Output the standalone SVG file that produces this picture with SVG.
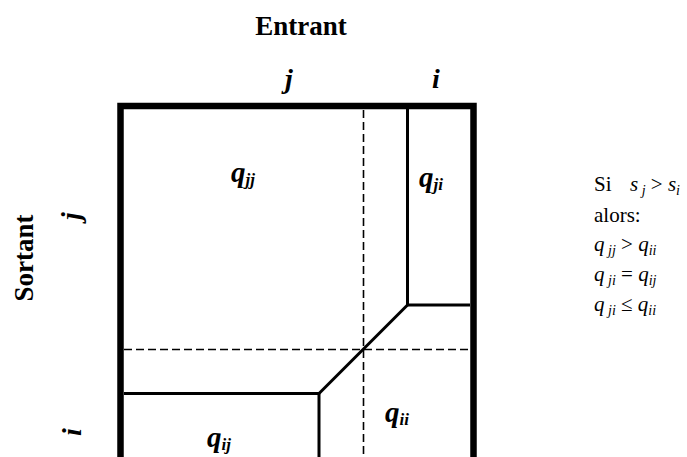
<svg xmlns="http://www.w3.org/2000/svg" width="687" height="457" viewBox="0 0 687 457">
<style>
.title{font-family:"Liberation Serif","Times New Roman",serif;font-weight:bold;font-size:27px;fill:#000}
.idx{font-family:"Liberation Serif","Times New Roman",serif;font-weight:bold;font-style:italic;font-size:28px;fill:#000}
.q{font-family:"Liberation Serif","Times New Roman",serif;font-weight:bold;font-style:italic;font-size:29px;fill:#000}
.sub{font-size:17px}
.note{font-family:"Liberation Serif","Times New Roman",serif;font-size:21px;fill:#000}
.it{font-style:italic}
.sm{font-size:14px}
.border{fill:none;stroke:#000;stroke-width:6.5}
.part{fill:none;stroke:#000;stroke-width:3;stroke-linejoin:miter}
.dash{fill:none;stroke:#000;stroke-width:1.6;stroke-dasharray:8 4}
</style>
<rect width="687" height="457" fill="#fff"/>
<text class="title" x="301" y="35" text-anchor="middle">Entrant</text>
<text class="title" transform="translate(33,258) rotate(-90)" text-anchor="middle">Sortant</text>
<text class="idx" x="289" y="88" text-anchor="middle">j</text>
<text class="idx" x="436" y="88" text-anchor="middle">i</text>
<text class="idx" transform="translate(80,216) rotate(-90)" text-anchor="middle">j</text>
<text class="idx" transform="translate(81,432) rotate(-90)" text-anchor="middle">i</text>
<g id="connectors">
<path class="dash" d="M363.5,110 V460"/>
<path class="dash" d="M124,349.5 H470"/>
<path class="part" d="M407.5,109 V305 H470"/>
<path class="part" d="M124,393.5 H319 V460"/>
<path class="part" d="M319,393.5 L407.5,305"/>
<path class="border" d="M120.5,460 V106 H473.5 V460"/>
</g>
<g id="q_jj"><text class="q" x="231" y="182">q<tspan class="sub" dy="3">jj</tspan></text></g>
<g id="q_ji"><text class="q" x="419" y="187">q<tspan class="sub" dy="3">ji</tspan></text></g>
<g id="q_ij"><text class="q" x="207" y="447">q<tspan class="sub" dy="3">ij</tspan></text></g>
<g id="q_ii"><text class="q" x="385" y="422">q<tspan class="sub" dy="3">ii</tspan></text></g>
<g id="notes">
<text class="note" x="594" y="191">Si<tspan class="it" x="630">s</tspan><tspan class="it sm" dy="4"> j</tspan><tspan dy="-4"> &gt; </tspan><tspan class="it">s</tspan><tspan class="it sm" dy="4">i</tspan></text>
<text class="note" x="594" y="222">alors:</text>
<text class="note" x="594" y="251"><tspan class="it">q</tspan><tspan class="it sm" dy="4"> jj</tspan><tspan dy="-4"> &gt; </tspan><tspan class="it">q</tspan><tspan class="it sm" dy="4">ii</tspan></text>
<text class="note" x="594" y="281"><tspan class="it">q</tspan><tspan class="it sm" dy="4"> ji</tspan><tspan dy="-4"> = </tspan><tspan class="it">q</tspan><tspan class="it sm" dy="4">ij</tspan></text>
<text class="note" x="594" y="311"><tspan class="it">q</tspan><tspan class="it sm" dy="4"> ji</tspan><tspan dy="-4"> ≤ </tspan><tspan class="it">q</tspan><tspan class="it sm" dy="4">ii</tspan></text>
</g>
</svg>
